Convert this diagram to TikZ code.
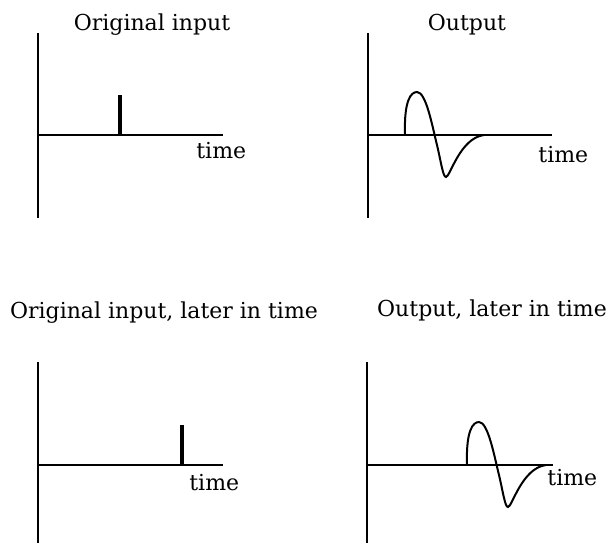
\documentclass[tikz,border=0pt]{standalone}
\usepackage{fontspec}
\setmainfont{DejaVu Serif}
\begin{document}
\begin{tikzpicture}[x=0.5pt,y=-0.5pt,
  axis/.style={line width=1pt},
  spike/.style={line width=1.7pt},
  wave/.style={line width=1pt},
  ttl/.style={font=\fontsize{11}{13}\selectfont, inner sep=0, anchor=base},
  tlbl/.style={font=\fontsize{11}{13}\selectfont, inner sep=0, anchor=base west}]
\useasboundingbox (0,0) rectangle (609,543);
% Panel 1
\node[ttl] (t1) at (152,30) {Original input};
\coordinate (a1t) at (38,33); \coordinate (a1b) at (38,218);
\coordinate (a1l) at (38,135); \coordinate (a1r) at (223,135);
\draw[axis] (a1t) -- (a1b);
\draw[axis] (a1l) -- (a1r);
\coordinate (s1b) at (120,135); \coordinate (s1t) at (120,95);
\draw[spike] (s1b) -- (s1t);
\node[tlbl] (l1) at (196,158) {time};
% Panel 2
\node[ttl] (t2) at (467,30) {Output};
\coordinate (a2t) at (368,33); \coordinate (a2b) at (368,218);
\coordinate (a2l) at (368,135); \coordinate (a2r) at (552,135);
\draw[axis] (a2t) -- (a2b);
\draw[axis] (a2l) -- (a2r);
\coordinate (w2s) at (405,134);
\draw[wave] (w2s) .. controls (404,100) and (411,92) .. (417,92)
  .. controls (426,92) and (432,125) .. (437,145)
  .. controls (441,162) and (443,177) .. (446,177)
  .. controls (450,177) and (460,138) .. (484,135);
\node[tlbl] (l2) at (538,162) {time};
% Panel 3
\node[ttl] (t3) at (164,318) {Original input, later in time};
\coordinate (a3t) at (38,362); \coordinate (a3b) at (38,543);
\coordinate (a3l) at (38,465); \coordinate (a3r) at (223,465);
\draw[axis] (a3t) -- (a3b);
\draw[axis] (a3l) -- (a3r);
\coordinate (s3b) at (182,465); \coordinate (s3t) at (182,425);
\draw[spike] (s3b) -- (s3t);
\node[tlbl] (l3) at (189,490) {time};
% Panel 4
\node[ttl] (t4) at (492,316) {Output, later in time};
\coordinate (a4t) at (367,362); \coordinate (a4b) at (367,543);
\coordinate (a4l) at (367,465); \coordinate (a4r) at (553,465);
\draw[axis] (a4t) -- (a4b);
\draw[axis] (a4l) -- (a4r);
\coordinate (w4s) at (467,464);
\draw[wave] (w4s) .. controls (466,430) and (473,422) .. (479,422)
  .. controls (488,422) and (494,455) .. (499,475)
  .. controls (503,492) and (505,507) .. (508,507)
  .. controls (512,507) and (522,468) .. (546,465);
\node[tlbl] (l4) at (547,485) {time};
\end{tikzpicture}
\end{document}
